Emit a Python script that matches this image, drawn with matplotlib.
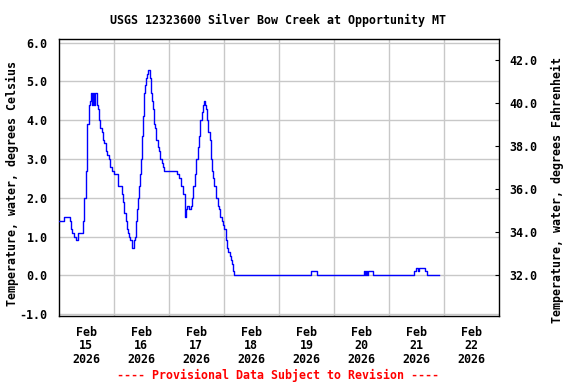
import matplotlib
matplotlib.use("Agg")
import matplotlib.pyplot as plt
import numpy as np
import pandas as pd

# ---- data: hours since 2026-02-15 00:00 (change points) and water temperature (deg C)
hours = [0.0, 2.2, 4.8, 5.4, 6.0, 6.6, 7.5, 8.6, 10.7, 11.2,
         11.8, 12.2, 12.5, 13.1, 13.6, 14.1, 14.6, 15.0, 15.4, 16.0,
         16.7, 17.3, 17.6, 18.2, 18.8, 19.4, 19.9, 20.5, 21.1, 22.0,
         22.6, 23.1, 24.0, 25.7, 27.5, 28.1, 28.6, 29.2, 29.8, 30.1,
         30.7, 31.3, 31.8, 32.7, 33.0, 33.3, 33.6, 33.9, 34.2, 34.5,
         34.9, 35.3, 35.9, 36.2, 36.5, 36.8, 37.1, 37.4, 37.7, 38.0,
         38.2, 38.5, 39.1, 39.7, 40.0, 40.2, 40.5, 40.8, 41.1, 41.4,
         41.7, 42.0, 42.3, 42.6, 43.2, 43.4, 43.7, 44.0, 44.3, 44.9,
         45.5, 46.1, 51.6, 52.7, 53.3, 54.2, 55.1, 55.4, 55.9, 56.8,
         57.7, 58.3, 58.8, 59.4, 60.0, 60.6, 61.2, 61.7, 62.3, 62.9,
         63.2, 63.8, 64.1, 64.7, 65.2, 65.8, 66.4, 67.0, 67.5, 67.8,
         68.7, 69.3, 69.9, 70.4, 71.0, 71.6, 72.2, 72.8, 73.4, 73.9,
         74.5, 75.1, 75.7, 76.2, 76.5, 110.1, 112.5, 132.9, 133.7, 133.9,
         134.4, 134.6, 136.9, 155.0, 155.6, 156.4, 157.2, 159.7, 160.7, 165.8]
temp_c = [1.4, 1.5, 1.4, 1.2, 1.1, 1.0, 0.9, 1.1, 1.4, 2.0,
          2.7, 3.4, 3.9, 4.4, 4.5, 4.7, 4.4, 4.7, 4.4, 4.7,
          4.4, 4.3, 4.0, 3.8, 3.7, 3.5, 3.4, 3.2, 3.1, 3.0,
          2.8, 2.7, 2.6, 2.3, 2.1, 1.9, 1.6, 1.4, 1.2, 1.1,
          1.0, 0.9, 0.7, 0.8, 0.9, 1.0, 1.1, 1.4, 1.7, 2.0,
          2.3, 2.6, 3.0, 3.3, 3.6, 4.1, 4.4, 4.7, 4.9, 5.0,
          5.1, 5.2, 5.3, 5.2, 5.1, 4.9, 4.7, 4.5, 4.3, 4.1,
          3.9, 3.8, 3.6, 3.5, 3.4, 3.3, 3.2, 3.1, 3.0, 2.9,
          2.8, 2.7, 2.6, 2.5, 2.3, 2.1, 1.5, 1.7, 1.8, 1.7,
          1.8, 2.0, 2.3, 2.6, 3.0, 3.3, 3.6, 4.0, 4.2, 4.4,
          4.5, 4.4, 4.3, 4.0, 3.7, 3.5, 3.0, 2.7, 2.5, 2.3,
          2.0, 1.8, 1.7, 1.5, 1.4, 1.3, 1.2, 0.9, 0.7, 0.6,
          0.5, 0.4, 0.3, 0.1, 0.0, 0.1, 0.0, 0.1, 0.0, 0.1,
          0.0, 0.1, 0.0, 0.1, 0.2, 0.1, 0.2, 0.1, 0.0, 0.0]

c_ticks = [-1.0, 0.0, 1.0, 2.0, 3.0, 4.0, 5.0, 6.0]
f_ticks = [32.0, 34.0, 36.0, 38.0, 40.0, 42.0]
day_labels = ["Feb\n15\n2026", "Feb\n16\n2026", "Feb\n17\n2026", "Feb\n18\n2026",
              "Feb\n19\n2026", "Feb\n20\n2026", "Feb\n21\n2026", "Feb\n22\n2026"]

title = "USGS 12323600 Silver Bow Creek at Opportunity MT"
ylabel_c = "Temperature, water, degrees Celsius"
ylabel_f = "Temperature, water, degrees Fahrenheit"
footer = "---- Provisional Data Subject to Revision ----"

FONT = dict(family="DejaVu Sans Mono", weight="bold", size=8.4)
GRID = "#c8c8c8"

start = pd.Timestamp("2026-02-15 00:00")
times = start + pd.to_timedelta(hours, unit="h")

fig = plt.figure(figsize=(5.76, 3.84), dpi=100)
ax = fig.add_axes([58.5 / 576, 1 - 316 / 384, (499.3 - 58.5) / 576, (316 - 39) / 384])

ax.step(times, temp_c, where="post", color="#0000ff", lw=1.0, zorder=3)

ax.set_xlim(start, start + pd.Timedelta(days=8))
ylo, yhi = -1.05, 6.095
ax.set_ylim(ylo, yhi)

# x ticks: labels at noon, gridlines at midnight
noons = [start + pd.Timedelta(hours=12 + 24 * i) for i in range(len(day_labels))]
mids = [start + pd.Timedelta(days=i) for i in range(1, 8)]
ax.set_xticks(noons)
ax.set_xticklabels(day_labels, linespacing=1.05, **FONT)
ax.set_xticks(mids, minor=True)
ax.tick_params(axis="x", which="both", length=0, pad=7)
ax.grid(True, axis="x", which="minor", color=GRID, lw=1.0)

ax.set_yticks(c_ticks)
ax.set_yticklabels([f"{v:.1f}" for v in c_ticks], **FONT)
ax.tick_params(axis="y", length=0, pad=8)
ax.grid(True, axis="y", which="major", color=GRID, lw=1.0)
ax.set_axisbelow(True)

for s in ax.spines.values():
    s.set_linewidth(1.0)
    s.set_color("black")

ax2 = ax.twinx()
ax2.set_ylim(ylo * 9 / 5 + 32, yhi * 9 / 5 + 32)
ax2.set_yticks(f_ticks)
ax2.set_yticklabels([f"{v:.1f}" for v in f_ticks], **FONT)
ax2.tick_params(axis="y", direction="in", length=3, width=0.8, pad=7)
for s in ax2.spines.values():
    s.set_visible(False)

fig.text(278 / 576, 1 - 20 / 384, title, ha="center", va="center", **FONT)
fig.text(12 / 576, 1 - 183 / 384, ylabel_c, rotation=90, ha="center", va="center", **FONT)
fig.text(557 / 576, 1 - 190 / 384, ylabel_f, rotation=90, ha="center", va="center", **FONT)
fig.text(278 / 576, 1 - 375 / 384, footer, ha="center", va="center", color="#ff0000", **FONT)

fig.savefig("out.png", dpi=100, facecolor="white")
